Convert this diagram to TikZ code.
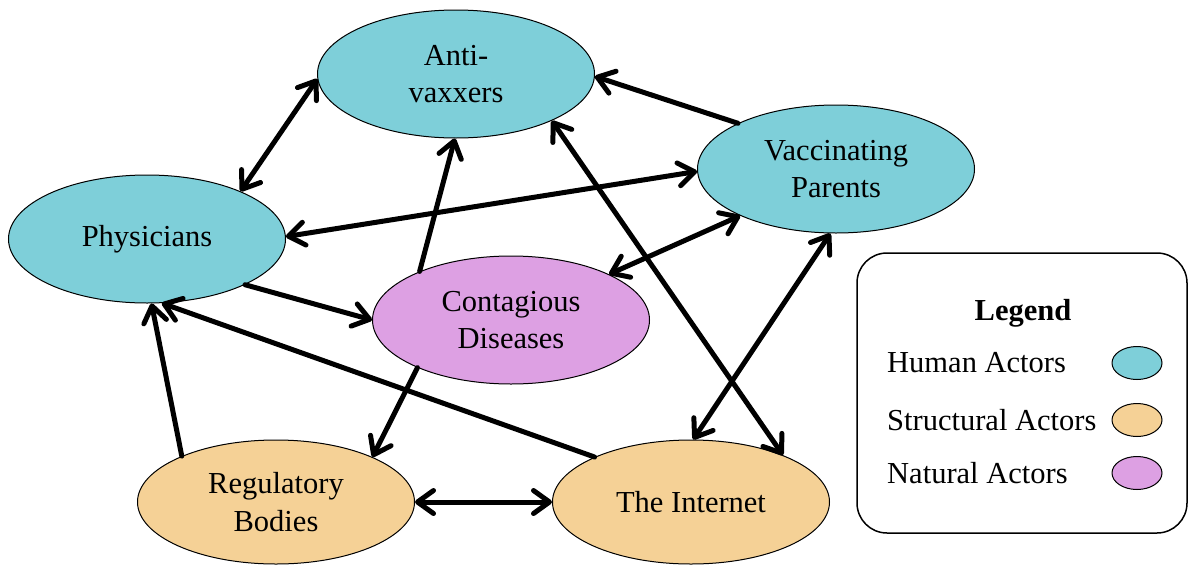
\documentclass[tikz,border=0pt]{standalone}
\usepackage{fontspec}
\setmainfont{Liberation Serif}
\usetikzlibrary{shapes.geometric,arrows.meta}
\definecolor{human}{HTML}{7ECFD9}
\definecolor{structural}{HTML}{F5D196}
\definecolor{natural}{HTML}{DDA0E3}
\begin{document}
\begin{tikzpicture}[x=1pt,y=-1pt,
  >={Straight Barb[length=16pt,width=23pt,round]},
  actor/.style={ellipse,draw=black,line width=1pt,minimum width=277pt,minimum height=128pt,
    inner sep=0pt,align=center,font=\fontsize{30.5}{37.5}\selectfont},
  swatch/.style={ellipse,draw=black,line width=1pt,minimum width=50pt,minimum height=33pt,inner sep=0pt},
  legtext/.style={anchor=west,inner sep=0pt,font=\fontsize{30.5}{37.5}\selectfont},
  link/.style={line width=5pt,line cap=round}]
\useasboundingbox (0,0) rectangle (1189,565);

\node[actor,fill=human] (A) at (456,74) {Anti-\\vaxxers};
\node[actor,fill=human] (P) at (147,239) {Physicians};
\node[actor,fill=human] (V) at (836,169) {Vaccinating\\Parents};
\node[actor,fill=natural] (C) at (511,320) {Contagious\\Diseases};
\node[actor,fill=structural,minimum height=124pt] (R) at (276,502) {Regulatory\\Bodies};
\node[actor,fill=structural,minimum height=124pt] (I) at (691,502) {The Internet};

\draw[link,<->] (P.27) -- (A.182);
\draw[link,->] (V.155) -- (A.-1);
\draw[link,<->] (P.1) -- (V.181);
\draw[link,<->] (C.25) -- (V.206);
\draw[link,->] (C.152) -- (A.269);
\draw[link,->] (P.-25) -- (C.180);
\draw[link,->] (C.207) -- (R.25);
\draw[link,->] (R.154) -- (P.274);
\draw[link,->] (I.155) -- (P.283);
\draw[link,<->] (R.0) -- (I.180);
\draw[link,<->] (I.88) -- (V.265);
\draw[link,<->] (A.-26) -- (I.27);

\node[draw=black,line width=1.5pt,rounded corners=30pt,minimum width=330pt,minimum height=280pt] (L) at (1022,393) {};
\node[font=\fontsize{30.5}{37.5}\selectfont\bfseries] (LT) at (1023,313) {Legend};
\node[legtext] (LH) at (887,363) {Human Actors};
\node[legtext] (LS) at (887,420) {Structural Actors};
\node[legtext] (LN) at (887,473) {Natural Actors};
\node[swatch,fill=human] (SH) at (1137,363) {};
\node[swatch,fill=structural] (SS) at (1137,420) {};
\node[swatch,fill=natural] (SN) at (1137,473) {};
\end{tikzpicture}
\end{document}
